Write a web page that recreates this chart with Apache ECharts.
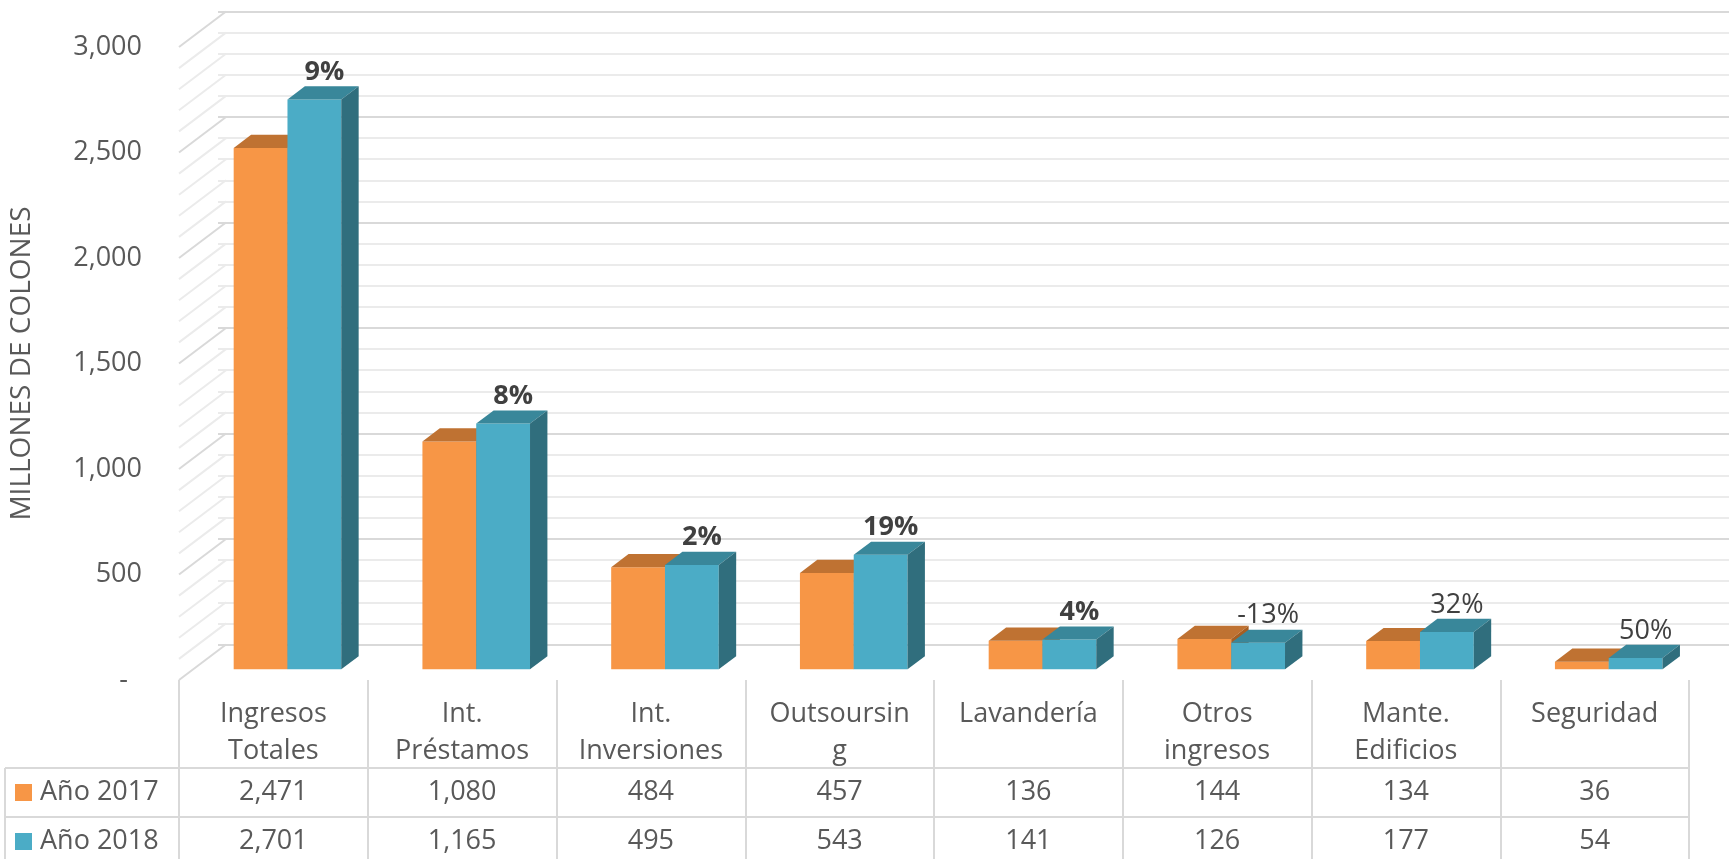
<!DOCTYPE html>
<html>
<head>
<meta charset="utf-8">
<script src="https://cdn.jsdelivr.net/npm/echarts@6/dist/echarts.min.js"></script>
<style>
  html, body { margin: 0; padding: 0; background: #fff; }
  #chart { width: 1729px; height: 859px; }
</style>
</head>
<body>
<div id="chart"></div>
<script>
// data
const categories = ['Ingresos\nTotales', 'Int.\nPréstamos', 'Int.\nInversiones', 'Outsoursin\ng',
  'Lavandería', 'Otros\ningresos', 'Mante.\nEdificios', 'Seguridad']
const values2017 = [2471, 1080, 484, 457, 136, 144, 134, 36]
const values2018 = [2701, 1165, 495, 543, 141, 126, 177, 54]
const growthLabels = ['9%', '8%', '2%', '19%', '4%', '-13%', '32%', '50%']
const yTickLabels = ['-  ', '500', '1,000', '1,500', '2,000', '2,500', '3,000']
const seriesNames = ['Año 2017', 'Año 2018']

// layout / style
const FONT = 'Open Sans'
const TXT = '#595959'
const FRONT = { left: 171, right: 40, top: 47, bottom: 179 }
const DX = 47, DY = -35.5          // depth of the floor, front -> back wall
const BAR_FRONT = 0.3, BAR_BACK = 0.67
const BAR_FRAC = 0.285
const BOLD_UNTIL = 5               // first labels are bold in the original
const ROW_LINES = [768, 817]
const ROW_CENTERS = [792.5, 841]
const TABLE_LEFT = 5

const colors = [
  { front: '#F79646', top: '#BF7232', side: '#A65E22' },
  { front: '#4BACC6', top: '#39879A', side: '#306E7D' }
]

const fmt = v => v.toLocaleString('en-US')

const chart = echarts.init(document.getElementById('chart'))
const W = chart.getWidth(), H = chart.getHeight()

function barRenderer(pos) {
  const c = colors[pos]
  return function (params, api) {
    const idx = api.value(0)
    const v = api.value(1)
    const base = api.coord([idx, 0])
    const top = api.coord([idx, v])
    const w = api.size([1, 0])[0] * BAR_FRAC
    const x0 = base[0] + DX * BAR_FRONT - (pos === 0 ? w : 0)
    const yb = base[1] + DY * BAR_FRONT
    const yt = top[1] + DY * BAR_FRONT
    const ddx = DX * (BAR_BACK - BAR_FRONT)
    const ddy = DY * (BAR_BACK - BAR_FRONT)
    const children = [
      { type: 'rect', shape: { x: x0, y: yt, width: w, height: yb - yt }, style: { fill: c.front } },
      { type: 'polygon', shape: { points: [[x0, yt], [x0 + w, yt], [x0 + w + ddx, yt + ddy], [x0 + ddx, yt + ddy]] }, style: { fill: c.top } },
      { type: 'polygon', shape: { points: [[x0 + w, yt], [x0 + w + ddx, yt + ddy], [x0 + w + ddx, yb + ddy], [x0 + w, yb]] }, style: { fill: c.side } }
    ]
    if (pos === 1) {
      children.push({
        type: 'text',
        x: x0 + w / 2 + 10,
        y: yt + ddy - 14,
        style: {
          text: growthLabels[idx],
          fill: '#404040',
          font: (idx < BOLD_UNTIL ? 'bold ' : '') + '27px "' + FONT + '"',
          align: 'center',
          verticalAlign: 'middle'
        }
      })
    }
    return { type: 'group', children }
  }
}

// tick values of the side wall lines (every 100)
const wallTicks = []
for (let v = 0; v <= 3000; v += 100) wallTicks.push([0, v])

const option = {
  animation: false,
  textStyle: { fontFamily: FONT },
  grid: [
    { left: FRONT.left, right: FRONT.right, top: FRONT.top, bottom: FRONT.bottom },
    { left: FRONT.left + DX, right: 0, top: FRONT.top + DY, bottom: FRONT.bottom - DY }
  ],
  legend: {
    data: seriesNames,
    orient: 'vertical',
    left: 15,
    top: ROW_CENTERS[0] - 15,
    padding: 0,
    itemGap: 49 - 30,
    itemWidth: 17,
    itemHeight: 17,
    icon: 'rect',
    textStyle: { fontSize: 27, color: TXT, lineHeight: 30, fontFamily: FONT, padding: [0, 0, 0, 3] }
  },
  xAxis: [
    {
      type: 'category', gridIndex: 0, data: categories,
      axisLine: { show: false },
      axisTick: { show: true, interval: 0, length: 180, lineStyle: { color: '#d9d9d9', width: 2 } },
      axisLabel: { interval: 0, margin: 16, lineHeight: 37, fontSize: 27, color: TXT, verticalAlign: 'top', fontFamily: FONT }
    },
    {
      type: 'category', gridIndex: 0, position: 'bottom', offset: ROW_CENTERS[0] - (H - FRONT.bottom),
      data: values2017.map(fmt),
      axisLine: { show: false }, axisTick: { show: false },
      axisLabel: { interval: 0, margin: 0, fontSize: 27, color: TXT, verticalAlign: 'middle', fontFamily: FONT }
    },
    {
      type: 'category', gridIndex: 0, position: 'bottom', offset: ROW_CENTERS[1] - (H - FRONT.bottom),
      data: values2018.map(fmt),
      axisLine: { show: false }, axisTick: { show: false },
      axisLabel: { interval: 0, margin: 0, fontSize: 27, color: TXT, verticalAlign: 'middle', fontFamily: FONT }
    },
    { type: 'value', gridIndex: 1, show: false }
  ],
  yAxis: [
    {
      type: 'value', gridIndex: 0, min: 0, max: 3000, interval: 500,
      name: 'MILLONES DE COLONES', nameLocation: 'middle', nameRotate: 90, nameGap: 143,
      nameTextStyle: { fontSize: 28, color: TXT, fontFamily: FONT },
      axisLine: { show: false }, axisTick: { show: false }, splitLine: { show: false },
      axisLabel: { margin: 37, fontSize: 27, color: TXT, fontFamily: FONT, formatter: v => yTickLabels[Math.round(v / 500)] }
    },
    {
      type: 'value', gridIndex: 1, min: 0, max: 3000, interval: 500,
      axisLine: { show: false }, axisTick: { show: false }, axisLabel: { show: false },
      splitLine: { lineStyle: { color: '#d9d9d9', width: 2 } },
      minorTick: { show: false, splitNumber: 5 },
      minorSplitLine: { show: true, lineStyle: { color: '#ebebeb', width: 2 } }
    }
  ],
  series: [
    {
      type: 'custom', name: 'wall', xAxisIndex: 0, yAxisIndex: 0, silent: true, z: 1,
      data: wallTicks,
      renderItem: (params, api) => {
        const v = api.value(1)
        const y = api.coord([0, v])[1]
        const x = params.coordSys.x
        return {
          type: 'line',
          shape: { x1: x, y1: y, x2: x + DX, y2: y + DY },
          style: { stroke: v % 500 === 0 ? '#d9d9d9' : '#ebebeb', lineWidth: 2 }
        }
      }
    },
    {
      type: 'custom', name: seriesNames[0], xAxisIndex: 0, yAxisIndex: 0, z: 2,
      itemStyle: { color: colors[0].front },
      data: values2017.map((v, i) => [i, v]),
      renderItem: barRenderer(0)
    },
    {
      type: 'custom', name: seriesNames[1], xAxisIndex: 0, yAxisIndex: 0, z: 3,
      itemStyle: { color: colors[1].front },
      data: values2018.map((v, i) => [i, v]),
      renderItem: barRenderer(1)
    }
  ],
  graphic: [
    ...ROW_LINES.map(y => ({
      type: 'line', silent: true,
      shape: { x1: TABLE_LEFT, y1: y, x2: W - FRONT.right, y2: y },
      style: { stroke: '#d9d9d9', lineWidth: 2 }
    })),
    {
      type: 'line', silent: true,
      shape: { x1: TABLE_LEFT, y1: ROW_LINES[0], x2: TABLE_LEFT, y2: H },
      style: { stroke: '#d9d9d9', lineWidth: 2 }
    }
  ]
}

chart.setOption(option)
window.addEventListener('resize', () => chart.resize())
</script>
</body>
</html>
